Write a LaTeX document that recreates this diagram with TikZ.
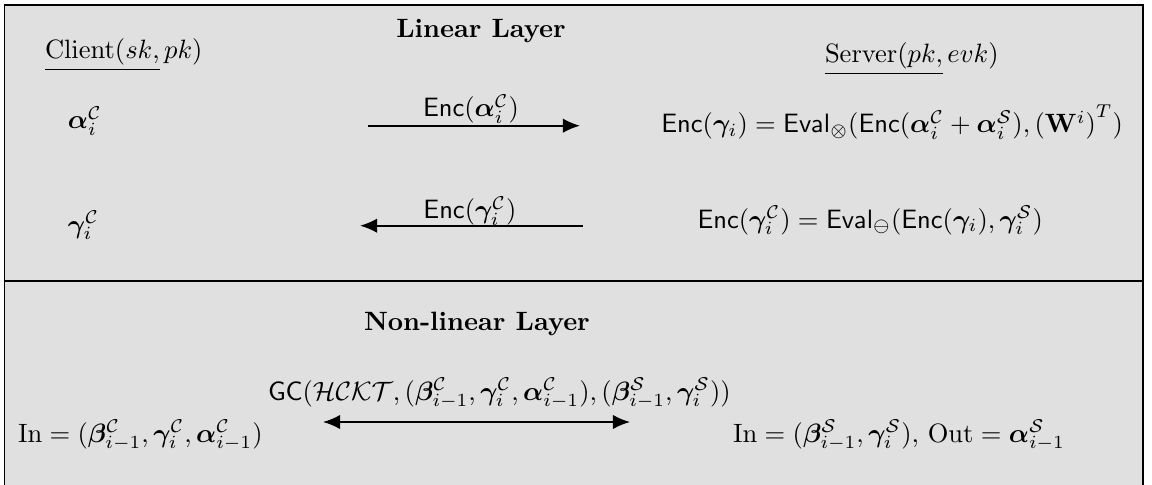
\documentclass[tikz,border=0pt]{standalone}
\usepackage{amsmath,amssymb,bm}
\usetikzlibrary{arrows.meta}
\definecolor{panel}{RGB}{224,224,224}
\tikzset{
  lbl/.style={inner sep=0pt, outer sep=0pt},
  msg/.style={line width=0.7pt, -{Latex[length=6.5pt,width=5.5pt]}},
  dmsg/.style={line width=0.7pt, {Latex[length=6.5pt,width=5.5pt]}-{Latex[length=6.5pt,width=5.5pt]}},
  frame/.style={draw=black, line width=0.6pt, fill=panel},
}
\newcommand{\Enc}{\mathsf{Enc}}
\newcommand{\Eval}{\mathsf{Eval}}
\begin{document}
\begin{tikzpicture}[x=0.377pt, y=-0.377pt]
\useasboundingbox (0,0) rectangle (1152,485);
\clip (0,0) rectangle (1152,485);
\fill[white] (0,0) rectangle (1152,485);
\draw[frame] (4.5,5) rectangle (1143,281);
\draw[frame] (4.5,281) rectangle (1143,520);
\draw[line width=0.8pt] (4.5,281) -- (1143,281);

% Linear layer
\node[lbl, anchor=base] (linear) at (481,38) {\textbf{Linear Layer}};
\node[lbl, anchor=base west] (client) at (45,59) {$\underline{\mathrm{Client}(sk,}\,pk)$};
\node[lbl, anchor=base west] (server) at (825,63) {$\underline{\mathrm{Server}(pk,}\,evk)$};
\node[lbl, anchor=base west] (alphaC) at (68,129) {$\bm{\alpha}_i^{\mathcal{C}}$};
\node[lbl, anchor=base west] (gammaC) at (68,233) {$\bm{\gamma}_i^{\mathcal{C}}$};
\node[lbl, anchor=base east] (eqone) at (1123,133) {$\Enc(\bm{\gamma}_i) = \Eval_{\otimes}(\Enc(\bm{\alpha}_i^{\mathcal{C}} + \bm{\alpha}_i^{\mathcal{S}}), {(\mathbf{W}^i)}^T)$};
\node[lbl, anchor=base east] (eqtwo) at (1043,228) {$\Enc(\bm{\gamma}_i^{\mathcal{C}}) = \Eval_{\ominus}(\Enc(\bm{\gamma}_i), \bm{\gamma}_i^{\mathcal{S}})$};

\coordinate (aone) at (368,125.7);
\coordinate (bone) at (580,125.7);
\draw[msg] (aone) -- (bone);
\node[lbl, anchor=base] (lone) at (471,117) {$\Enc(\bm{\alpha}_i^{\mathcal{C}})$};

\coordinate (atwo) at (583,225.7);
\coordinate (btwo) at (360,225.7);
\draw[msg] (atwo) -- (btwo);
\node[lbl, anchor=base] (ltwo) at (470,219) {$\Enc(\bm{\gamma}_i^{\mathcal{C}})$};

% Non-linear layer
\node[lbl, anchor=base west] (nonlinear) at (364,330) {\textbf{Non-linear Layer}};
\node[lbl, anchor=base west] (gc) at (268,400) {$\mathsf{GC}(\mathcal{HCKT}, (\bm{\beta}_{i-1}^{\mathcal{C}}, \bm{\gamma}_i^{\mathcal{C}}, \bm{\alpha}_{i-1}^{\mathcal{C}}), (\bm{\beta}_{i-1}^{\mathcal{S}}, \bm{\gamma}_i^{\mathcal{S}}))$};
\coordinate (athree) at (323,422);
\coordinate (bthree) at (630,422);
\draw[dmsg] (athree) -- (bthree);
\node[lbl, anchor=base west] (inleft) at (18,442) {$\mathrm{In} = (\bm{\beta}_{i-1}^{\mathcal{C}}, \bm{\gamma}_i^{\mathcal{C}}, \bm{\alpha}_{i-1}^{\mathcal{C}})$};
\node[lbl, anchor=base west] (inright) at (733,442) {$\mathrm{In} = (\bm{\beta}_{i-1}^{\mathcal{S}}, \bm{\gamma}_i^{\mathcal{S}}),\, \mathrm{Out} = \bm{\alpha}_{i-1}^{\mathcal{S}}$};
\end{tikzpicture}
\end{document}
